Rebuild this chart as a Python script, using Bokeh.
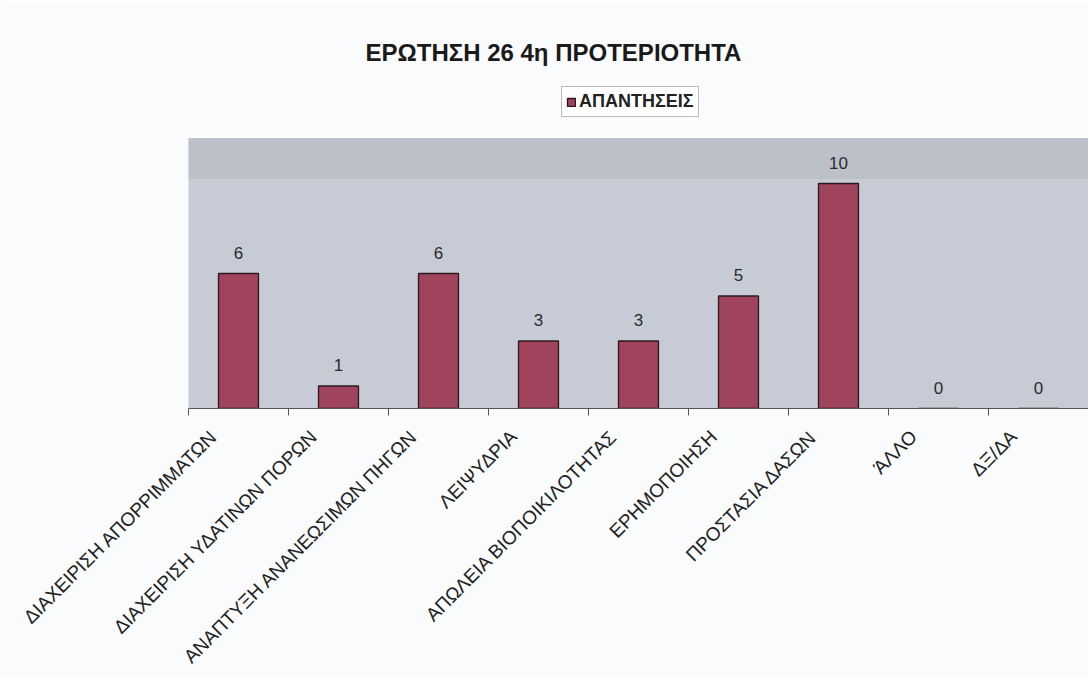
import math
from bokeh.plotting import figure
from bokeh.models import (Range1d, LinearAxis, FixedTicker,
                          ColumnDataSource, LabelSet, Legend, LegendItem, BoxAnnotation, Title)
from bokeh.core.properties import value
from bokeh.embed import file_html
from bokeh.resources import INLINE

# ---- data ----
title_text = "ΕΡΩΤΗΣΗ 26 4η ΠΡΟΤΕΡΙΟΤΗΤΑ"
series_name = "ΑΠΑΝΤΗΣΕΙΣ"
categories = [
    "ΔΙΑΧΕΙΡΙΣΗ ΑΠΟΡΡΙΜΜΑΤΩΝ",
    "ΔΙΑΧΕΙΡΙΣΗ ΥΔΑΤΙΝΩΝ ΠΟΡΩΝ",
    "ΑΝΑΠΤΥΞΗ ΑΝΑΝΕΩΣΙΜΩΝ ΠΗΓΩΝ",
    "ΛΕΙΨΥΔΡΙΑ",
    "ΑΠΩΛΕΙΑ ΒΙΟΠΟΙΚΙΛΟΤΗΤΑΣ",
    "ΕΡΗΜΟΠΟΙΗΣΗ",
    "ΠΡΟΣΤΑΣΙΑ ΔΑΣΩΝ",
    "ΆΛΛΟ",
    "ΔΞ/ΔΑ",
]
responses = [6, 1, 6, 3, 3, 5, 10, 0, 0]
y_max = 12

FONT = "Liberation Sans"

# layout (pixels)
LEFT, FRAME_W = 188, 900
TOP, PLOT_H, LEGEND_H = 86, 270, 52
FRAME_H = PLOT_H + LEGEND_H
y_top = y_max * FRAME_H / PLOT_H          # extra room above the plot area for the legend
LABEL_SHIFT = -0.25                       # rotated labels end a little left of slot centre

n = len(categories)
centers = [i + 0.5 for i in range(n)]      # slot centres
bounds = list(range(n + 1))                 # slot boundaries (tick marks)
label_pos = [c + LABEL_SHIFT for c in centers]

src = ColumnDataSource(dict(x=centers, cat=categories, val=responses,
                            txt=[str(v) for v in responses]))

p = figure(frame_width=FRAME_W, frame_height=FRAME_H,
           x_range=Range1d(0, n), y_range=Range1d(0, y_top),
           x_axis_location=None, y_axis_location=None,
           output_backend="svg", toolbar_location=None,
           min_border_left=LEFT, min_border_right=0,
           min_border_top=TOP, min_border_bottom=262)
p.grid.visible = False
BG = "#f9fbfc"
p.background_fill_color = BG
p.border_fill_color = BG
p.outline_line_color = None

# plot area (0..y_max) and the darker top band
p.add_layout(BoxAnnotation(bottom=0, top=y_max, fill_color="#c7cbd6", fill_alpha=1,
                           line_color="#8a8c90", line_width=1, level="underlay"))
p.add_layout(BoxAnnotation(bottom=10.2, top=y_max, fill_color="#bcc0c9", fill_alpha=1,
                           line_color=None, level="underlay"))

bars = p.vbar(x="x", top="val", width=0.4, source=src,
              fill_color="#a0435d", line_color="#2a1a1e", line_width=1.3)

p.add_layout(LabelSet(x="x", y="val", text="txt", source=src, y_offset=15,
                      text_align="center", text_baseline="bottom",
                      text_font=value(FONT), text_font_size="17px", text_color="#2a2a2a"))

xaxis = LinearAxis(ticker=FixedTicker(ticks=label_pos, minor_ticks=bounds),
                   major_label_overrides={c: name for c, name in zip(label_pos, categories)},
                   major_tick_line_color=None,
                   minor_tick_in=0, minor_tick_out=7, minor_tick_line_color="#555",
                   axis_line_color="#555", axis_line_width=1.2,
                   major_label_orientation=math.pi / 4,
                   major_label_standoff=18,
                   major_label_text_font=FONT,
                   major_label_text_font_size="19px",
                   major_label_text_color="#222")
p.add_layout(xaxis, "below")

legend = Legend(items=[LegendItem(label=series_name, renderers=[bars])],
                orientation="horizontal", location=(373, FRAME_H - 31),
                border_line_color="#7a7a7a", border_line_width=1,
                background_fill_color="#ffffff", background_fill_alpha=1,
                label_text_font=FONT, label_text_font_size="18px",
                label_text_font_style="bold", label_text_color="#222",
                glyph_width=10, glyph_height=10, padding=4, spacing=2,
                label_standoff=3, margin=0)
p.add_layout(legend, "center")

p.add_layout(Title(text=title_text, align="left", offset=177, standoff=41,
                   text_font=FONT, text_font_size="24px", text_font_style="bold",
                   text_color="#1a1a1a"), "above")

open("out.html", "w").write(file_html(p, INLINE))
